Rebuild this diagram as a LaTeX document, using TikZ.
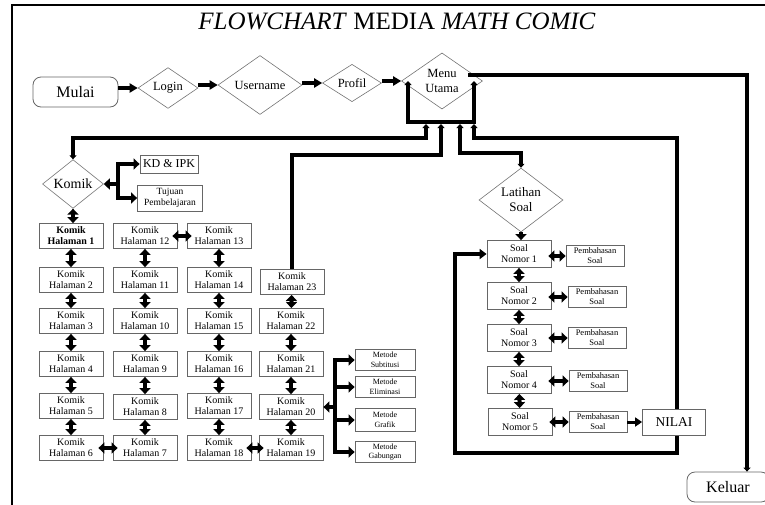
\documentclass[tikz,border=0pt]{standalone}
\usepackage{fontspec}
\setmainfont{Liberation Serif}
\usetikzlibrary{arrows.meta,shapes.geometric,backgrounds}
\begin{document}
\begin{tikzpicture}[x=1pt,y=-1pt,
  box/.style={draw=black!60, line width=0.8pt, fill=white, align=center, inner sep=0pt,
    minimum width=64pt, minimum height=25pt, font=\fontsize{10}{11}\selectfont},
  soalbox/.style={box, minimum height=27pt},
  pbox/.style={box, minimum width=58pt, minimum height=21pt, font=\fontsize{8.5}{10}\selectfont},
  mbox/.style={box, minimum width=60pt, minimum height=21pt, font=\fontsize{8}{9.5}\selectfont},
  dia/.style={diamond, draw=black!55, line width=0.6pt, align=center, inner sep=0pt},
  term/.style={draw=black!60, line width=0.8pt, fill=white, rounded corners=8pt,
    minimum width=85pt, minimum height=30pt, inner sep=0pt, font=\fontsize{16}{18}\selectfont},
  dbl/.style={line width=4pt, {Triangle[length=6pt,width=11pt]}-{Triangle[length=6pt,width=11pt]}},
  hdbl/.style={dbl, shorten <=-5pt, shorten >=-5pt},
  one/.style={line width=4pt, -{Triangle[length=6pt,width=11pt]}},
  lnk/.style={line width=3.5pt},
  sm/.tip={Triangle[length=4pt,width=7pt]},
  big/.tip={Triangle[length=7pt,width=10pt]}
]
\useasboundingbox (0,0) rectangle (765,504);
% frame
\draw[line width=2pt] (12,520) -- (12,5) -- (780,5);
% title
\node (title) at (397,21) {\fontsize{25}{28}\selectfont\textit{FLOWCHART} MEDIA \textit{MATH COMIC}};

% top row
\node[term] (mulai) at (75.5,92) {Mulai};
\node[dia, minimum width=60pt, minimum height=38pt, font=\fontsize{12.5}{14}\selectfont] (login) at (168,88) {Login};
\node[dia, minimum width=84pt, minimum height=37pt, font=\fontsize{12.5}{14}\selectfont] (user) at (260,85) {Username};
\node[dia, minimum width=59pt, minimum height=37pt, font=\fontsize{12.5}{14}\selectfont] (profil) at (352,83) {Profil};
\node[dia, minimum width=81pt, minimum height=55pt, font=\fontsize{12.5}{14.5}\selectfont] (menu) at (442,81) {Menu\\Utama};

\draw[line width=4pt, -{Triangle[length=8pt,width=9pt]}] (mulai.east |- login.west) -- (login.west);
\draw[line width=4pt, -{Triangle[length=8pt,width=9pt]}] (login.east |- user.west) -- (user.west);
\draw[line width=4pt, -{Triangle[length=8pt,width=9pt]}] (user.east |- profil.west) -- (profil.west);
\draw[line width=4pt, -{Triangle[length=8pt,width=9pt]}] (profil.east |- menu.west) -- (menu.west);

% Komik branch
\node[dia, minimum width=61pt, minimum height=37pt, font=\fontsize{14}{16}\selectfont] (komik) at (73,184) {Komik};
\node[box, minimum width=58pt, minimum height=18pt, font=\fontsize{12}{14}\selectfont] (kd) at (169,164) {KD \& IPK};
\node[box, minimum width=65pt, minimum height=26pt, font=\fontsize{9.5}{11}\selectfont] (tuj) at (170,198) {Tujuan\\Pembelajaran};
\coordinate (kj) at (118,184);
\draw[line width=4pt, {Triangle[length=6pt,width=11pt]}-] (komik.east) -- (kj);
\draw[one] (kj) |- (kd.west);
\draw[one] (kj) |- (tuj.west);

% Komik pages
\node[box, font=\fontsize{10}{11}\selectfont\bfseries] (k1) at (71,236) {Komik\\Halaman 1};
\node[box] (k2) at (71,280) {Komik\\Halaman 2};
\node[box] (k3) at (71,321) {Komik\\Halaman 3};
\node[box] (k4) at (71,364) {Komik\\Halaman 4};
\node[box] (k5) at (71,406) {Komik\\Halaman 5};
\node[box] (k6) at (71,448) {Komik\\Halaman 6};
\node[box] (k7) at (145,448) {Komik\\Halaman 7};
\node[box] (k8) at (145,407) {Komik\\Halaman 8};
\node[box] (k9) at (145,364) {Komik\\Halaman 9};
\node[box] (k10) at (145,321) {Komik\\Halaman 10};
\node[box] (k11) at (145,280) {Komik\\Halaman 11};
\node[box] (k12) at (145,236) {Komik\\Halaman 12};
\node[box] (k13) at (219,236) {Komik\\Halaman 13};
\node[box] (k14) at (219,280) {Komik\\Halaman 14};
\node[box] (k15) at (219,321) {Komik\\Halaman 15};
\node[box] (k16) at (219,364) {Komik\\Halaman 16};
\node[box] (k17) at (219,406) {Komik\\Halaman 17};
\node[box] (k18) at (219,448) {Komik\\Halaman 18};
\node[box] (k19) at (291,448) {Komik\\Halaman 19};
\node[box] (k20) at (291,407) {Komik\\Halaman 20};
\node[box] (k21) at (291,364) {Komik\\Halaman 21};
\node[box] (k22) at (291,321) {Komik\\Halaman 22};
\node[box] (k23) at (292,282) {Komik\\Halaman 23};

\draw[dbl] (komik.south) -- (komik.south |- k1.north);
\draw[dbl] (k1) -- (k2); \draw[dbl] (k2) -- (k3); \draw[dbl] (k3) -- (k4);
\draw[dbl] (k4) -- (k5); \draw[dbl] (k5) -- (k6);
\draw[hdbl] (k6.east) -- (k7.west);
\draw[dbl] (k7) -- (k8); \draw[dbl] (k8) -- (k9); \draw[dbl] (k9) -- (k10);
\draw[dbl] (k10) -- (k11); \draw[dbl] (k11) -- (k12);
\draw[hdbl] (k12.east) -- (k13.west);
\draw[dbl] (k13) -- (k14); \draw[dbl] (k14) -- (k15); \draw[dbl] (k15) -- (k16);
\draw[dbl] (k16) -- (k17); \draw[dbl] (k17) -- (k18);
\draw[hdbl] (k18.east) -- (k19.west);
\draw[dbl] (k19) -- (k20); \draw[dbl] (k20) -- (k21); \draw[dbl] (k21) -- (k22);
\draw[dbl] (k22) -- (k23);

% Metode
\node[mbox] (m1) at (385,360) {Metode\\Subtitusi};
\node[mbox] (m2) at (385,387) {Metode\\Eliminasi};
\node[mbox, minimum height=23pt] (m3) at (385,420) {Metode\\Grafik};
\node[mbox] (m4) at (385,452) {Metode\\Gabungan};
\coordinate (mj) at (335,407);
\draw[line width=4pt, {Triangle[length=6pt,width=11pt]}-] (k20.east) -- (mj);
\draw[one] (mj) |- (m1.west);
\draw[one] (mj) |- (m2.west);
\draw[one] (mj) |- (m3.west);
\draw[one] (mj) |- (m4.west);

% Latihan soal
\node[dia, minimum width=84pt, minimum height=52pt, font=\fontsize{13}{15}\selectfont] (lat) at (521,200) {Latihan\\Soal};
\node[soalbox] (s1) at (519,254) {Soal\\Nomor 1};
\node[soalbox] (s2) at (519,296) {Soal\\Nomor 2};
\node[soalbox] (s3) at (519,338) {Soal\\Nomor 3};
\node[soalbox] (s4) at (519,380) {Soal\\Nomor 4};
\node[soalbox] (s5) at (520,422) {Soal\\Nomor 5};
\node[pbox] (p1) at (595,256) {Pembahasan\\Soal};
\node[pbox] (p2) at (597,297) {Pembahasan\\Soal};
\node[pbox] (p3) at (597,338) {Pembahasan\\Soal};
\node[pbox] (p4) at (598,381) {Pembahasan\\Soal};
\node[pbox] (p5) at (598,422) {Pembahasan\\Soal};
\node[box, minimum width=63pt, minimum height=26pt, font=\fontsize{13.5}{15}\selectfont] (nilai) at (674,422) {NILAI};
\node[term, minimum width=82pt] (keluar) at (728,487) {Keluar};

\draw[one] (lat.south) -- (lat.south |- s1.north);
\draw[dbl] (s1) -- (s2); \draw[dbl] (s2) -- (s3); \draw[dbl] (s3) -- (s4); \draw[dbl] (s4) -- (s5);
\draw[dbl, shorten <=-3pt] (s1.east |- p1.west) -- (p1.west);
\draw[dbl, shorten <=-3pt] (s2.east |- p2.west) -- (p2.west);
\draw[dbl, shorten <=-3pt] (s3.east |- p3.west) -- (p3.west);
\draw[dbl, shorten <=-3pt] (s4.east |- p4.west) -- (p4.west);
\draw[dbl, shorten <=-3pt] (s5.east |- p5.west) -- (p5.west);
\draw[line width=3pt, -{Triangle[length=7pt,width=9pt]}] (p5.east |- nilai.west) -- (nilai.west);

% Menu bracket
\coordinate (uL) at (408,122);
\coordinate (uR) at (474,122);
\coordinate (b1) at (426,124);
\coordinate (b2) at (441,124);
\coordinate (b3) at (460,124);
\coordinate (b4) at (474,124);
\draw[line width=4pt, sm-sm] (uL |- menu.center) -- (uL) -- (uR) -- (uR |- menu.center);

\draw[lnk, sm-sm] (b1) -- ++(0,14) -| (komik.north);
\draw[lnk, sm-] (b2) -- ++(0,31) -| (k23.north);
\draw[lnk, sm-sm] (b3) -- ++(0,29) -| (lat.north);
\coordinate (la) at (677,138);
\coordinate (lb) at (677,453);
\coordinate (lc) at (455,453);
\begin{pgfonlayer}{background}
\draw[lnk, sm-big] (b4) |- (la) -- (lb) -- (lc) |- (s1.west);
\end{pgfonlayer}

% Keluar line
\coordinate (mk) at (468,75);
\coordinate (kk) at (747,75);
\draw[lnk, -sm] (mk) -- (kk) -- (kk |- keluar.north);
\end{tikzpicture}
\end{document}
